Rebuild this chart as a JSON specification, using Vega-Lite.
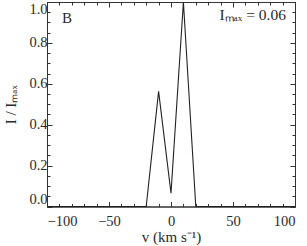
{
  "$schema": "https://vega.github.io/schema/vega-lite/v6.json",
  "autosize": {"type": "none"},
  "padding": {"left": 47, "top": 2, "right": 12, "bottom": 39.5},
  "width": 248,
  "height": 204.5,
  "background": "white",
  "config": {
    "view": {"stroke": null},
    "axis": {
      "labelFont": "Liberation Serif",
      "labelFontSize": 14.5,
      "labelColor": "#2a2a2a",
      "titleFont": "Liberation Serif",
      "titleFontSize": 15,
      "titleFontWeight": "normal",
      "titleColor": "#2a2a2a",
      "domainColor": "#333",
      "tickColor": "#333",
      "grid": false
    }
  },
  "data": {
    "values": [
      {"v": -100, "i": 0}, {"v": -90, "i": 0}, {"v": -80, "i": 0}, {"v": -70, "i": 0},
      {"v": -60, "i": 0}, {"v": -50, "i": 0}, {"v": -40, "i": 0}, {"v": -30, "i": 0},
      {"v": -20, "i": 0}, {"v": -10, "i": 0.563}, {"v": 0, "i": 0.065}, {"v": 10, "i": 1.0},
      {"v": 20, "i": 0}, {"v": 30, "i": 0}, {"v": 40, "i": 0}, {"v": 50, "i": 0},
      {"v": 60, "i": 0}, {"v": 70, "i": 0}, {"v": 80, "i": 0}, {"v": 90, "i": 0}, {"v": 100, "i": 0}
    ]
  },
  "resolve": {"axis": {"x": "independent", "y": "independent"}},
  "layer": [
    {
      "mark": {"type": "line", "opacity": 0},
      "encoding": {
        "x": {"field": "v", "type": "quantitative",
          "axis": {"orient": "bottom", "values": [-100,-90,-80,-70,-60,-50,-40,-30,-20,-10,0,10,20,30,40,50,60,70,80,90,100], "labels": false, "title": null, "tickSize": -3}},
        "y": {"field": "i", "type": "quantitative",
          "axis": {"orient": "left", "values": [0,0.05,0.1,0.15,0.2,0.25,0.3,0.35,0.4,0.45,0.5,0.55,0.6,0.65,0.7,0.75,0.8,0.85,0.9,0.95,1.0], "labels": false, "title": null, "tickSize": -3}}
      }
    },
    {
      "mark": {"type": "line", "opacity": 0},
      "encoding": {
        "x": {"field": "v", "type": "quantitative",
          "axis": {"orient": "top", "values": [-100,-90,-80,-70,-60,-50,-40,-30,-20,-10,0,10,20,30,40,50,60,70,80,90,100], "labels": false, "title": null, "tickSize": -3}},
        "y": {"field": "i", "type": "quantitative",
          "axis": {"orient": "right", "values": [0,0.05,0.1,0.15,0.2,0.25,0.3,0.35,0.4,0.45,0.5,0.55,0.6,0.65,0.7,0.75,0.8,0.85,0.9,0.95,1.0], "labels": false, "title": null, "tickSize": -3}}
      }
    },
    {
      "mark": {"type": "line", "opacity": 0},
      "encoding": {
        "x": {"field": "v", "type": "quantitative",
          "axis": {"orient": "top", "values": [-100,-50,0,50,100], "labels": false, "title": null, "tickSize": -5}},
        "y": {"field": "i", "type": "quantitative",
          "axis": {"orient": "right", "values": [0,0.2,0.4,0.6,0.8,1.0], "labels": false, "title": null, "tickSize": -5}}
      }
    },
    {
      "mark": {"type": "line", "color": "#222", "strokeWidth": 1.1},
      "encoding": {
        "x": {"field": "v", "type": "quantitative",
          "scale": {"domain": [-100, 100], "nice": false, "zero": false},
          "axis": {"orient": "bottom", "values": [-100,-50,0,50,100], "tickSize": -5, "labelPadding": 13, "title": "v (km s⁻¹)", "titlePadding": 1}},
        "y": {"field": "i", "type": "quantitative",
          "scale": {"domain": [0, 1], "nice": false, "zero": false},
          "axis": {"orient": "left", "values": [0,0.2,0.4,0.6,0.8,1.0], "format": ".1f", "labelFlush": true, "tickSize": -5, "labelPadding": 5, "title": "I / Iₘₐₓ", "titlePadding": 10}}
      }
    },
    {
      "data": {"values": [{"v": -88, "i": 0.924, "t": "B"}]},
      "mark": {"type": "text", "font": "Liberation Serif", "fontSize": 15, "color": "#2a2a2a", "align": "left", "baseline": "middle"},
      "encoding": {
        "x": {"field": "v", "type": "quantitative", "axis": null},
        "y": {"field": "i", "type": "quantitative", "axis": null},
        "text": {"field": "t"}
      }
    },
    {
      "data": {"values": [{"v": 92.7, "i": 0.936, "t": "Iₘₐₓ = 0.06"}]},
      "mark": {"type": "text", "font": "Liberation Serif", "fontSize": 15.5, "color": "#2a2a2a", "align": "right", "baseline": "middle"},
      "encoding": {
        "x": {"field": "v", "type": "quantitative", "axis": null},
        "y": {"field": "i", "type": "quantitative", "axis": null},
        "text": {"field": "t"}
      }
    }
  ]
}
